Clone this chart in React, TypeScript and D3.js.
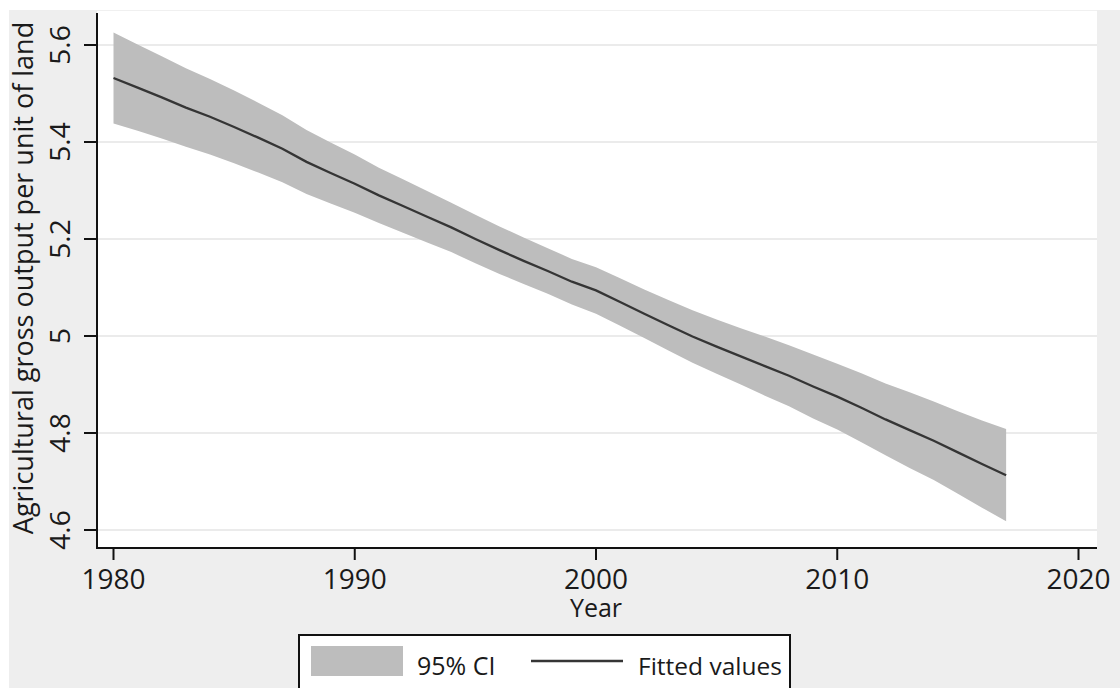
import React from "react";
import * as d3 from "d3";

// values
const years = [
  1980, 1981, 1982, 1983, 1984, 1985, 1986, 1987, 1988, 1989,
  1990, 1991, 1992, 1993, 1994, 1995, 1996, 1997, 1998, 1999,
  2000, 2001, 2002, 2003, 2004, 2005, 2006, 2007, 2008, 2009,
  2010, 2011, 2012, 2013, 2014, 2015, 2016, 2017,
];
const fitted = [
  5.532, 5.512, 5.492, 5.471, 5.452, 5.431, 5.409, 5.386, 5.359, 5.336,
  5.314, 5.29, 5.268, 5.246, 5.224, 5.2, 5.177, 5.155, 5.134, 5.112,
  5.094, 5.07, 5.046, 5.022, 4.999, 4.978, 4.958, 4.938, 4.918, 4.896,
  4.875, 4.852, 4.828, 4.806, 4.784, 4.76, 4.736, 4.713,
];
const lower = [
  5.438, 5.423, 5.407, 5.39, 5.374, 5.356, 5.337, 5.317, 5.293, 5.273,
  5.254, 5.233, 5.213, 5.193, 5.173, 5.15, 5.128, 5.107, 5.087, 5.065,
  5.046, 5.021, 4.996, 4.97, 4.945, 4.922, 4.9, 4.877, 4.855, 4.83,
  4.807, 4.781, 4.754, 4.728, 4.703, 4.675, 4.646, 4.618,
];
const upper = [
  5.626, 5.601, 5.577, 5.552, 5.53, 5.506, 5.481, 5.455, 5.425, 5.399,
  5.374, 5.347, 5.323, 5.299, 5.275, 5.25, 5.226, 5.203, 5.181, 5.159,
  5.142, 5.119, 5.096, 5.074, 5.053, 5.034, 5.016, 4.999, 4.981, 4.962,
  4.943, 4.923, 4.902, 4.884, 4.865, 4.845, 4.826, 4.808,
];
const xTicks = [1980, 1990, 2000, 2010, 2020];
const yTicks = [4.6, 4.8, 5, 5.2, 5.4, 5.6];
const yTitle = "Agricultural gross output per unit of land";
const xTitle = "Year";
const legendLabels = ["95% CI", "Fitted values"];

const W = 1120;
const H = 688;
const font = "'Open Sans', sans-serif";
const bandColor = "#bdbdbd";
const lineColor = "#353535";
const textColor = "#1a1a1a";

export default function App() {
  const x = d3.scaleLinear().domain([1980, 2020]).range([113.5, 1078.5]);
  const y = d3.scaleLinear().domain([4.6, 5.6]).range([530, 45]);

  const rows = years.map((yr, i) => ({ yr, fit: fitted[i], lo: lower[i], hi: upper[i] }));

  const area = d3
    .area<any>()
    .x((d) => x(d.yr))
    .y0((d) => y(d.lo))
    .y1((d) => y(d.hi));
  const line = d3
    .line<any>()
    .x((d) => x(d.yr))
    .y((d) => y(d.fit));

  const plotL = 97;
  const plotR = 1097;
  const plotT = 10;
  const plotB = 548;

  return (
    <svg
      width={W}
      height={H}
      style={{ position: "absolute", left: 0, top: 0, background: "#fff" }}
    >
      {/* outer graph region */}
      <rect x={9} y={10} width={W - 9} height={H - 10} fill="#eeeeee" />
      {/* plot region */}
      <rect x={plotL} y={plotT} width={plotR - plotL} height={plotB - plotT} fill="#fff" />
      <line x1={plotL} x2={plotR} y1={plotT + 0.5} y2={plotT + 0.5} stroke="#f0f0f0" />

      {/* gridlines */}
      {yTicks.map((t) => (
        <line
          key={"g" + t}
          x1={plotL}
          x2={plotR}
          y1={y(t)}
          y2={y(t)}
          stroke="#ebebeb"
          strokeWidth={2}
        />
      ))}

      {/* CI band and fitted line */}
      <path d={area(rows) || ""} fill={bandColor} />
      <path d={line(rows) || ""} fill="none" stroke={lineColor} strokeWidth={2.3} />

      {/* axes */}
      <line x1={plotL} x2={plotL} y1={13} y2={plotB + 1} stroke="#111" strokeWidth={2} />
      <line x1={plotL - 1} x2={plotR} y1={plotB} y2={plotB} stroke="#111" strokeWidth={2} />

      {yTicks.map((t) => (
        <g key={"y" + t}>
          <line x1={plotL - 13} x2={plotL} y1={y(t)} y2={y(t)} stroke="#111" strokeWidth={2} />
          <text
            transform={`translate(70,${y(t)}) rotate(-90)`}
            textAnchor="middle"
            fontFamily={font}
            fontSize={28}
            fill={textColor}
          >
            {t === 5 ? "5" : t.toFixed(1)}
          </text>
        </g>
      ))}

      {xTicks.map((t) => (
        <g key={"x" + t}>
          <line x1={x(t)} x2={x(t)} y1={plotB} y2={plotB + 12} stroke="#111" strokeWidth={2} />
          <text
            x={x(t)}
            y={589}
            textAnchor="middle"
            fontFamily={font}
            fontSize={28}
            fill={textColor}
          >
            {t}
          </text>
        </g>
      ))}

      {/* axis titles */}
      <text
        transform={`translate(33,278) rotate(-90)`}
        textAnchor="middle"
        fontFamily={font}
        fontSize={27}
        fill={textColor}
      >
        {yTitle}
      </text>
      <text x={x(2000)} y={617} textAnchor="middle" fontFamily={font} fontSize={25} fill={textColor}>
        {xTitle}
      </text>

      {/* legend */}
      <rect x={299} y={635} width={491} height={70} fill="#fff" stroke="#111" strokeWidth={2} />
      <rect x={311} y={646} width={92} height={30} fill={bandColor} />
      <text x={417} y={675} fontFamily={font} fontSize={25} fill={textColor}>
        {legendLabels[0]}
      </text>
      <line x1={531} x2={623} y1={661} y2={661} stroke={lineColor} strokeWidth={2.3} />
      <text x={638} y={675} fontFamily={font} fontSize={24.5} fill={textColor}>
        {legendLabels[1]}
      </text>
    </svg>
  );
}
